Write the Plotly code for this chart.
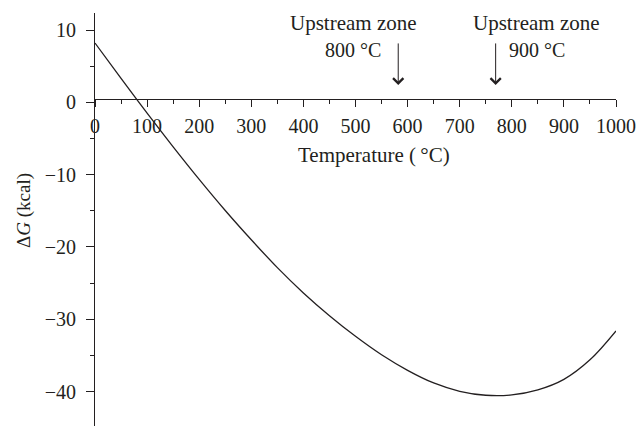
import plotly.graph_objects as go

# Data
temperature = [0, 50, 100, 150, 200, 250, 300, 350, 400, 450, 500,
               550, 600, 650, 700, 750, 800, 850, 900, 950, 1000]
delta_g = [8.2, 3.3, -1.5, -6.15, -10.65, -14.95, -19.0, -22.85, -26.35, -29.5, -32.35,
           -34.9, -37.05, -38.8, -39.95, -40.5, -40.45, -39.75, -38.3, -35.6, -31.6]

x_ticks = list(range(0, 1001, 100))
y_ticks = [-40, -30, -20, -10, 0, 10]

zone_labels = ["Upstream zone", "Upstream zone"]
zone_temps = ["800 °C", "900 °C"]
label_x = [496, 848]
arrow_x = [582, 769]

FONT = "Liberation Serif"
INK = "#231f20"
Y_RANGE = [-44.75, 12.35]
X_AXIS_AT = 0.46

PLOT_TOP, PLOT_BOTTOM = 13, 426


def py(p):
    return (PLOT_BOTTOM - p) / (PLOT_BOTTOM - PLOT_TOP)


fig = go.Figure()
fig.add_trace(go.Scatter(
    x=temperature, y=delta_g, mode="lines",
    line=dict(color=INK, width=1.3, shape="spline", smoothing=1.0),
    showlegend=False, hoverinfo="skip",
))

pos = (X_AXIS_AT - Y_RANGE[0]) / (Y_RANGE[1] - Y_RANGE[0])

fig.update_layout(
    width=637, height=426,
    margin=dict(l=95, r=21, t=13, b=0),
    paper_bgcolor="white", plot_bgcolor="white",
    font=dict(family=FONT, size=20, color=INK),
    xaxis=dict(
        range=[0, 1000], anchor="free", position=pos,
        tickvals=x_ticks, ticktext=[str(v) for v in x_ticks],
        ticks="outside", ticklen=7, tickwidth=1, tickcolor=INK,
        minor=dict(dtick=50, tick0=0, ticks="outside", ticklen=4, tickwidth=1, tickcolor=INK),
        showline=True, linecolor=INK, linewidth=1,
        showgrid=False, zeroline=False,
        ticklabelstandoff=2,
    ),
    yaxis=dict(
        range=Y_RANGE,
        tickvals=y_ticks, ticktext=[("−" + str(-v)) if v < 0 else str(v) for v in y_ticks],
        ticks="outside", ticklen=8, tickwidth=1, tickcolor=INK,
        minor=dict(dtick=5, tick0=0, ticks="outside", ticklen=4, tickwidth=1, tickcolor=INK),
        showline=True, linecolor=INK, linewidth=1,
        showgrid=False, zeroline=False,
        ticklabelstandoff=6,
    ),
)

# x-axis title
fig.add_annotation(
    text="Temperature (\u2009°C)", showarrow=False,
    xref="paper", yref="paper", x=(374 - 95) / 521, y=py(155),
    xanchor="center", yanchor="middle", font=dict(size=21),
)

# y-axis title
fig.add_annotation(
    text="Δ<i>G</i> (kcal)", textangle=-90, showarrow=False,
    xref="paper", yref="y", x=-0.136, y=-15.0, xanchor="center", yanchor="middle",
    font=dict(size=19),
)

for i in range(2):
    fig.add_annotation(text=zone_labels[i], showarrow=False, xref="x", yref="paper",
                       x=label_x[i], y=py(23), xanchor="center", yanchor="middle",
                       font=dict(size=21))
    fig.add_annotation(text=zone_temps[i], showarrow=False, xref="x", yref="paper",
                       x=label_x[i], y=py(49.5), xanchor="center", yanchor="middle",
                       font=dict(size=20))
    fig.add_annotation(text="", x=arrow_x[i], y=2.4, ax=arrow_x[i], ay=8.35,
                       xref="x", yref="y", axref="x", ayref="y",
                       showarrow=True, arrowhead=4, arrowsize=2, arrowwidth=1,
                       arrowcolor=INK)

fig.write_html(
    "out.html",
    config={"displayModeBar": False},
    post_script="document.body.style.margin='0';document.body.style.overflow='hidden';",
)
